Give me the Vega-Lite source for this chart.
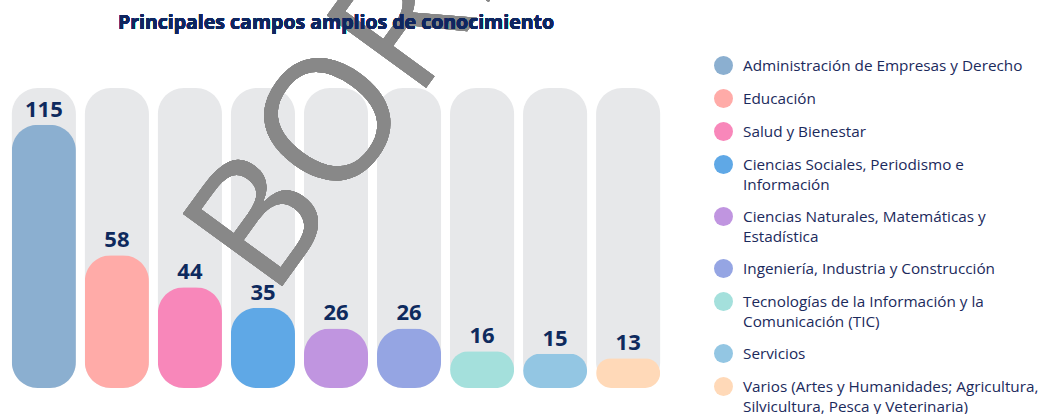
{
  "$schema": "https://vega.github.io/schema/vega-lite/v6.json",
  "width": 660,
  "height": 300,
  "autosize": {"type": "none"},
  "padding": {"left": 6, "top": 88, "right": 379, "bottom": 26},
  "background": "white",
  "config": {
    "view": {"stroke": null},
    "style": {"guide-label": {"lineHeight": 20}}
  },
  "data": {
    "values": [
      {"campo": "Administración de Empresas y Derecho", "valor": 115},
      {"campo": "Educación", "valor": 58},
      {"campo": "Salud y Bienestar", "valor": 44},
      {"campo": "Ciencias Sociales, Periodismo e Información", "valor": 35},
      {"campo": "Ciencias Naturales, Matemáticas y Estadística", "valor": 26},
      {"campo": "Ingeniería, Industria y Construcción", "valor": 26},
      {"campo": "Tecnologías de la Información y la Comunicación (TIC)", "valor": 16},
      {"campo": "Servicios", "valor": 15},
      {"campo": "Varios (Artes y Humanidades; Agricultura, Silvicultura, Pesca y Veterinaria)", "valor": 13}
    ]
  },
  "encoding": {
    "x": {
      "field": "campo",
      "type": "nominal",
      "sort": null,
      "axis": null,
      "scale": {"paddingInner": 0.123, "paddingOuter": 0.08}
    }
  },
  "layer": [
    {
      "mark": {"type": "bar", "color": "#E7E8EA", "cornerRadius": 26},
      "encoding": {
        "y": {"datum": 131, "type": "quantitative", "scale": {"domain": [0, 131], "nice": false, "zero": true}, "axis": null},
        "y2": {"datum": 0}
      }
    },
    {
      "mark": {"type": "bar", "cornerRadius": 26},
      "encoding": {
        "y": {"field": "valor", "type": "quantitative", "axis": null},
        "color": {
          "field": "campo",
          "type": "nominal",
          "sort": null,
          "scale": {
            "range": ["#8BAFD0", "#FFABA8", "#F887BA", "#5FA8E6", "#C095E0", "#95A5E3", "#A4E0DC", "#93C6E3", "#FFD9B8"]
          },
          "legend": {
            "title": null,
            "orient": "none",
            "legendX": 708,
            "legendY": -32,
            "symbolType": "circle",
            "symbolSize": 361,
            "symbolStrokeWidth": 0,
            "symbolOpacity": 1,
            "labelFont": "Open Sans",
            "labelFontSize": 15.3,
            "labelColor": "#1B2A5C",
            "labelOffset": 10,
            "labelLimit": 400,
            "rowPadding": 14,
            "labelExpr": "datum.label == 'Ciencias Sociales, Periodismo e Información' ? ['Ciencias Sociales, Periodismo e', 'Información'] : datum.label == 'Ciencias Naturales, Matemáticas y Estadística' ? ['Ciencias Naturales, Matemáticas y', 'Estadística'] : datum.label == 'Tecnologías de la Información y la Comunicación (TIC)' ? ['Tecnologías de la Información y la', 'Comunicación (TIC)'] : datum.label == 'Varios (Artes y Humanidades; Agricultura, Silvicultura, Pesca y Veterinaria)' ? ['Varios (Artes y Humanidades; Agricultura,', 'Silvicultura, Pesca y Veterinaria)'] : datum.label"
          }
        }
      }
    },
    {
      "mark": {
        "type": "text",
        "text": "BORRADOR",
        "angle": -54,
        "align": "left",
        "baseline": "alphabetic",
        "font": "Open Sans",
        "fontSize": 172,
        "fill": "#888888",
        "opacity": 0.65,
        "dx": 16
      },
      "encoding": {
        "x": {"datum": "Ciencias Sociales, Periodismo e Información"},
        "y": {"datum": 33, "type": "quantitative"}
      }
    },
    {
      "mark": {
        "type": "text",
        "baseline": "alphabetic",
        "dy": -8,
        "font": "Open Sans",
        "fontWeight": "bold",
        "fontSize": 22,
        "color": "#0E2A5E"
      },
      "encoding": {
        "y": {"field": "valor", "type": "quantitative"},
        "text": {"field": "valor", "type": "quantitative"}
      }
    },
    {
      "mark": {
        "type": "text",
        "text": "Principales campos amplios de conocimiento",
        "baseline": "alphabetic",
        "font": "Open Sans",
        "fontWeight": "bold",
        "fontSize": 19.5,
        "color": "#0F2660"
      },
      "encoding": {
        "x": {"datum": "Ciencias Naturales, Matemáticas y Estadística"},
        "y": {"datum": 156.8, "type": "quantitative"}
      }
    }
  ]
}
